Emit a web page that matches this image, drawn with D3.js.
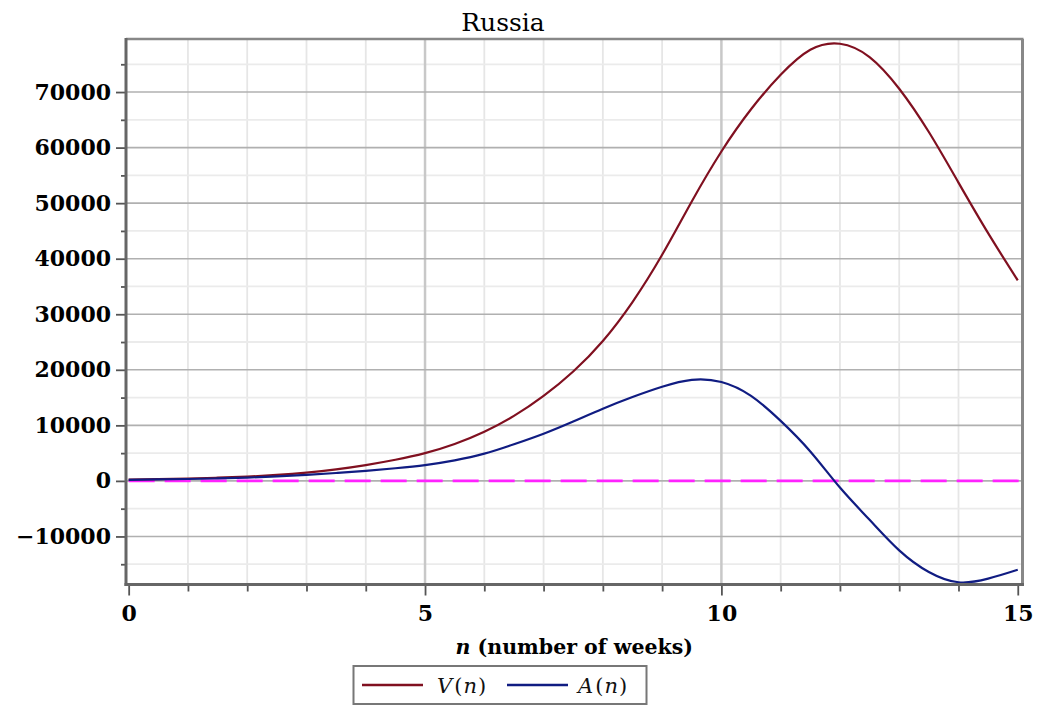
<!DOCTYPE html>
<html>
<head>
<meta charset="utf-8">
<script src="https://d3js.org/d3.v7.min.js"></script>
<style>
  html, body { margin: 0; padding: 0; background: #fff; }
  svg { display: block; }
</style>
</head>
<body>
<script>
// ---- data ----
const titleText = "Russia";
const weeks = [0, 0.5, 1, 1.5, 2, 2.5, 3, 3.5, 4, 4.5, 5, 5.5, 6, 6.5, 7, 7.5, 8, 8.5, 9, 9.5, 10, 10.5, 11, 11.5, 12, 12.5, 13, 13.5, 14, 14.5, 15];
const vValues = [250, 330, 430, 580, 780, 1080, 1500, 2080, 2850, 3800, 5000, 6650, 8850, 11700, 15300, 19700, 25200, 32200, 40700, 50300, 59300, 66900, 73100, 77600, 78700, 76300, 70600, 62800, 53700, 44600, 36100];
const aValues = [200, 260, 340, 450, 600, 800, 1080, 1420, 1800, 2280, 2850, 3700, 4900, 6600, 8500, 10700, 13000, 15100, 16950, 18200, 17800, 15300, 10800, 5300, -1200, -7000, -12500, -16400, -18250, -17600, -16000];
const seriesNames = ["V", "A"];
const xMajorTicks = [0, 5, 10, 15];
const xMinorTicks = [1, 2, 3, 4, 6, 7, 8, 9, 11, 12, 13, 14];
const yMajorTicks = [-10000, 0, 10000, 20000, 30000, 40000, 50000, 60000, 70000];
const yMinorTicks = [-15000, -5000, 5000, 15000, 25000, 35000, 45000, 55000, 65000, 75000];
const yTickLabels = ["\u221210000", "0", "10000", "20000", "30000", "40000", "50000", "60000", "70000"];
const xLabel = "(number of weeks)";

// ---- layout ----
const W = 1042, H = 705;
const L = 126, R = 1022.5, T = 39, B = 584.5;
const serif = "'DejaVu Serif', 'Liberation Serif', serif";
const vColor = "#801020", aColor = "#101c82";

const svg = d3.select("body").append("svg").attr("width", W).attr("height", H);

const x = d3.scaleLinear().domain([-0.045, 15.08]).range([L, R]);
const y = d3.scaleLinear().domain([-18650, 79550]).range([B, T]);

// grid
const g = svg.append("g");
g.selectAll(".vminor").data(xMinorTicks).join("line")
  .attr("x1", d => x(d)).attr("x2", d => x(d)).attr("y1", T).attr("y2", B)
  .attr("stroke", "#e6e6e6").attr("stroke-width", 1.8);
g.selectAll(".hminor").data(yMinorTicks).join("line")
  .attr("x1", L).attr("x2", R).attr("y1", d => y(d)).attr("y2", d => y(d))
  .attr("stroke", "#ebebeb").attr("stroke-width", 1.8);
g.selectAll(".vmajor").data([5, 10]).join("line")
  .attr("x1", d => x(d)).attr("x2", d => x(d)).attr("y1", T).attr("y2", B)
  .attr("stroke", "#c8c8c8").attr("stroke-width", 2.5);
g.selectAll(".hmajor").data(yMajorTicks).join("line")
  .attr("x1", L).attr("x2", R).attr("y1", d => y(d)).attr("y2", d => y(d))
  .attr("stroke", "#b0b0b0").attr("stroke-width", 1.6);

// frame top/right
svg.append("line").attr("x1", L).attr("x2", R + 1).attr("y1", T).attr("y2", T)
  .attr("stroke", "#888").attr("stroke-width", 2.5);
svg.append("line").attr("x1", R).attr("x2", R).attr("y1", T).attr("y2", B)
  .attr("stroke", "#888").attr("stroke-width", 3);

// zero line
svg.append("line").attr("x1", x(0)).attr("x2", R - 2).attr("y1", y(0)).attr("y2", y(0))
  .attr("stroke", "#ff22ff").attr("stroke-width", 2.6).attr("stroke-dasharray", "26,10");

// curves
const line = d3.line().curve(d3.curveNatural);
const vPts = weeks.map((n, i) => [x(n), y(vValues[i])]);
const aPts = weeks.map((n, i) => [x(n), y(aValues[i])]);
svg.append("path").attr("d", line(vPts)).attr("fill", "none")
  .attr("stroke", vColor).attr("stroke-width", 2.2);
svg.append("path").attr("d", line(aPts)).attr("fill", "none")
  .attr("stroke", aColor).attr("stroke-width", 2.2);

// axes
function styleAxis(sel) {
  sel.select(".domain").remove();
  sel.selectAll(".tick line").attr("stroke", "#555").attr("stroke-width", 1.8);
  sel.selectAll("text").attr("font-family", serif).attr("font-weight", "bold")
    .attr("font-size", 22).attr("fill", "#000");
}
const yAxis = d3.axisLeft(y).tickValues(yMajorTicks).tickSize(10).tickPadding(5)
  .tickFormat((d, i) => yTickLabels[i]);
svg.append("g").attr("transform", `translate(${L},0)`).call(yAxis).call(styleAxis);
const yMinorAxis = d3.axisLeft(y).tickValues(yMinorTicks).tickSize(5).tickFormat("");
svg.append("g").attr("transform", `translate(${L},0)`).call(yMinorAxis).call(styleAxis);

const xAxis = d3.axisBottom(x).tickValues(xMajorTicks).tickSize(11).tickPadding(10)
  .tickFormat(d3.format("d"));
svg.append("g").attr("transform", `translate(0,${B})`).call(xAxis).call(styleAxis);
const xMinorAxis = d3.axisBottom(x).tickValues(xMinorTicks).tickSize(7).tickFormat("");
svg.append("g").attr("transform", `translate(0,${B})`).call(xMinorAxis).call(styleAxis);

// axis lines (left/bottom)
svg.append("line").attr("x1", L).attr("x2", L).attr("y1", T - 1).attr("y2", B + 1.5)
  .attr("stroke", "#666").attr("stroke-width", 3);
svg.append("line").attr("x1", L - 1.5).attr("x2", R + 1.5).attr("y1", B).attr("y2", B)
  .attr("stroke", "#666").attr("stroke-width", 3);

// title
svg.append("text").attr("x", 503).attr("y", 31).attr("text-anchor", "middle")
  .attr("font-family", serif).attr("font-size", 25).attr("fill", "#000").text(titleText);

// x label
const xl = svg.append("text").attr("x", (L + R) / 2).attr("y", 654).attr("text-anchor", "middle")
  .attr("font-family", serif).attr("font-weight", "bold").attr("font-size", 20.5).attr("fill", "#000");
xl.append("tspan").attr("font-style", "italic").text("n");
xl.append("tspan").text(" " + xLabel);

// legend
const lg = svg.append("g");
lg.append("rect").attr("x", 353.5).attr("y", 666).attr("width", 293).attr("height", 38)
  .attr("fill", "#fff").attr("stroke", "#777").attr("stroke-width", 2);
const legendItems = [
  { name: seriesNames[0], color: vColor, x0: 362, x1: 423, tx: 437 },
  { name: seriesNames[1], color: aColor, x0: 507, x1: 568, tx: 578 }
];
legendItems.forEach(it => {
  lg.append("line").attr("x1", it.x0).attr("x2", it.x1).attr("y1", 685).attr("y2", 685)
    .attr("stroke", it.color).attr("stroke-width", 2.4);
  const t = lg.append("text").attr("x", it.tx).attr("y", 693)
    .attr("font-family", serif).attr("font-size", 21).attr("fill", "#111");
  t.append("tspan").attr("font-style", "italic").text(it.name);
  t.append("tspan").attr("dx", 2).text("(");
  t.append("tspan").attr("font-style", "italic").attr("dx", 1).text("n");
  t.append("tspan").attr("dx", 1).text(")");
});
</script>
</body>
</html>
